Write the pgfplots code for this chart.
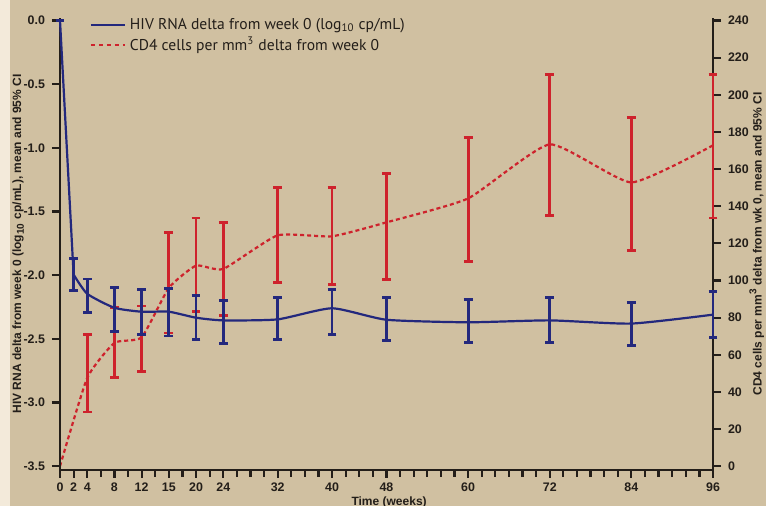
\documentclass[border=0pt]{standalone}
\usepackage{fontspec}
\setmainfont{Liberation Sans}
\newfontfamily\legfont{PT Sans}
\usepackage{pgfplots}
\pgfplotsset{compat=1.18}
\usepackage{pgfplotstable}
\definecolor{bg}{RGB}{208,192,161}
\definecolor{cream}{RGB}{243,234,218}
\definecolor{hivblue}{RGB}{35,40,125}
\definecolor{cdred}{RGB}{206,34,44}
\definecolor{axcol}{RGB}{35,30,25}

% week (15 drawn at 16 as in original layout), mean, +CI, -CI
\pgfplotstableread{
x  y       ep     em
0  0.000   0.000  0.000
2  -1.995  0.128  0.123
4  -2.146  0.116  0.149
8  -2.256  0.159  0.184
12 -2.287  0.177  0.178
16 -2.287  0.183  0.191
20 -2.334  0.174  0.170
24 -2.355  0.159  0.181
32 -2.347  0.172  0.157
40 -2.260  0.150  0.205
48 -2.350  0.175  0.160
60 -2.370  0.180  0.160
72 -2.355  0.180  0.175
84 -2.380  0.165  0.170
96 -2.310  0.180  0.180
}\hiv

\pgfplotstableread{
x  y
0  0.000
2  -1.995
}\hivfirst

\pgfplotstableread{
x  y
2  -1.995
4  -2.146
8  -2.256
12 -2.287
16 -2.287
20 -2.334
24 -2.355
32 -2.347
40 -2.260
48 -2.350
60 -2.370
72 -2.355
84 -2.380
96 -2.310
}\hivrest

\pgfplotstableread{
x  y
0  0.0
4  47.5
8  66.4
12 69.4
16 96.0
20 108.0
24 106.2
32 124.3
40 123.8
48 131.3
60 144.2
72 173.3
84 152.8
96 172.8
}\cdfour

\pgfplotstableread{
x  y      ep    em
4  47.5   23.4  18.3
8  66.4   19.2  18.5
12 69.4   16.9  18.6
16 96.0   29.8  24.3
20 108.0  25.6  24.6
24 106.2  25.1  24.9
32 124.3  25.9  25.3
40 123.8  26.4  25.8
48 131.3  26.4  30.7
60 144.2  32.8  33.9
72 173.3  37.7  38.3
84 152.8  35.0  36.5
96 172.8  38.2  39.2
}\cdfourerr

\pgfplotsset{
  common/.style={
    at={(30pt,18pt)}, anchor=south west,
    scale only axis, width=326.5pt, height=226pt,
    xmin=0, xmax=96,
    axis line style={line width=1.1pt, draw=axcol, -},
    tick align=outside,
    major tick length=4pt, minor tick length=3.5pt,
    tick style={line width=1.1pt, draw=axcol},
    /pgf/number format/assume math mode=true,
    tick label style={font=\fontsize{6.2}{7}\selectfont\bfseries, text=axcol},
    label style={font=\fontsize{6}{7}\selectfont\bfseries, text=axcol},
    clip=false,
  },
  ebars/.style={error bars/.cd, y dir=both, y explicit,
    error bar style={draw=#1, line width=1.4pt, solid},
    error mark options={draw=#1, line width=1.4pt, mark size=2.2pt, rotate=90}},
}

\begin{document}
\begin{tikzpicture}
\path[use as bounding box] (0,0) rectangle (383pt,253pt);
\fill[bg] (0,0) rectangle (383pt,253pt);
\fill[cream] (0,0) rectangle (5pt,253pt);

% right axis: CD4 cells
\begin{axis}[common,
  ymin=-2.06, ymax=241.37,
  axis y line*=right, axis x line=none,
  ytick={0,20,...,240},
  ylabel={CD4 cells per mm\textsuperscript{3} delta from wk 0, mean and 95\% CI},
  ylabel style={at={(axis description cs:1.067,0.5)}, anchor=center, rotate=0},
]
\addplot[cdred, line width=1.1pt, smooth, tension=0.3, dash pattern=on 2pt off 1.5pt]
  table[x=x, y=y] {\cdfour};
\addplot[draw=none, forget plot, ebars=cdred]
  table[x=x, y=y, y error plus=ep, y error minus=em] {\cdfourerr};
\end{axis}

% left axis: HIV RNA
\begin{axis}[common,
  ymin=-3.53, ymax=0.02,
  axis x line*=bottom, axis y line*=left,
  xtick={0,2,4,8,12,16,20,24,32,40,48,60,72,84,96},
  xticklabels={0,2,4,8,12,15,20,24,32,40,48,60,72,84,96},
  xticklabel style={yshift=1pt},
  minor xtick={0,2,...,96},
  ytick={-3.5,-3,-2.5,-2,-1.5,-1,-0.5,0},
  yticklabels={-3.5,-3.0,-2.5,-2.0,-1.5,-1.0,-0.5,0.0},
  xlabel={Time (weeks)},
  xlabel style={at={(axis description cs:0.504,-0.071)}, anchor=center},
  ylabel={HIV RNA delta from week 0 (log\textsubscript{10} cp/mL), mean and 95\% CI},
  ylabel style={at={(axis description cs:-0.064,0.5)}, anchor=center},
  legend cell align=left,
  legend style={at={(axis description cs:0.045,1.009)}, anchor=north west,
    draw=none, fill=none, inner sep=0pt, row sep=-1.6pt,
    font=\legfont\fontsize{7.8}{9}\selectfont, text=axcol},
  legend image code/.code={\draw[#1] (0pt,0pt) -- (17pt,0pt);},
]
\addplot[hivblue, line width=1.1pt] table[x=x, y=y] {\hivfirst};
\addlegendentry{HIV RNA delta from week 0 (log\textsubscript{10} cp/mL)}
\addlegendimage{cdred, line width=1.1pt, dash pattern=on 2pt off 2pt}
\addlegendentry{CD4 cells per mm\textsuperscript{3} delta from week 0}
\addplot[hivblue, line width=1.1pt, smooth, tension=0.35, forget plot]
  table[x=x, y=y] {\hivrest};
\addplot[draw=none, forget plot, ebars=hivblue]
  table[x=x, y=y, y error plus=ep, y error minus=em] {\hiv};
\end{axis}
\end{tikzpicture}
\end{document}
